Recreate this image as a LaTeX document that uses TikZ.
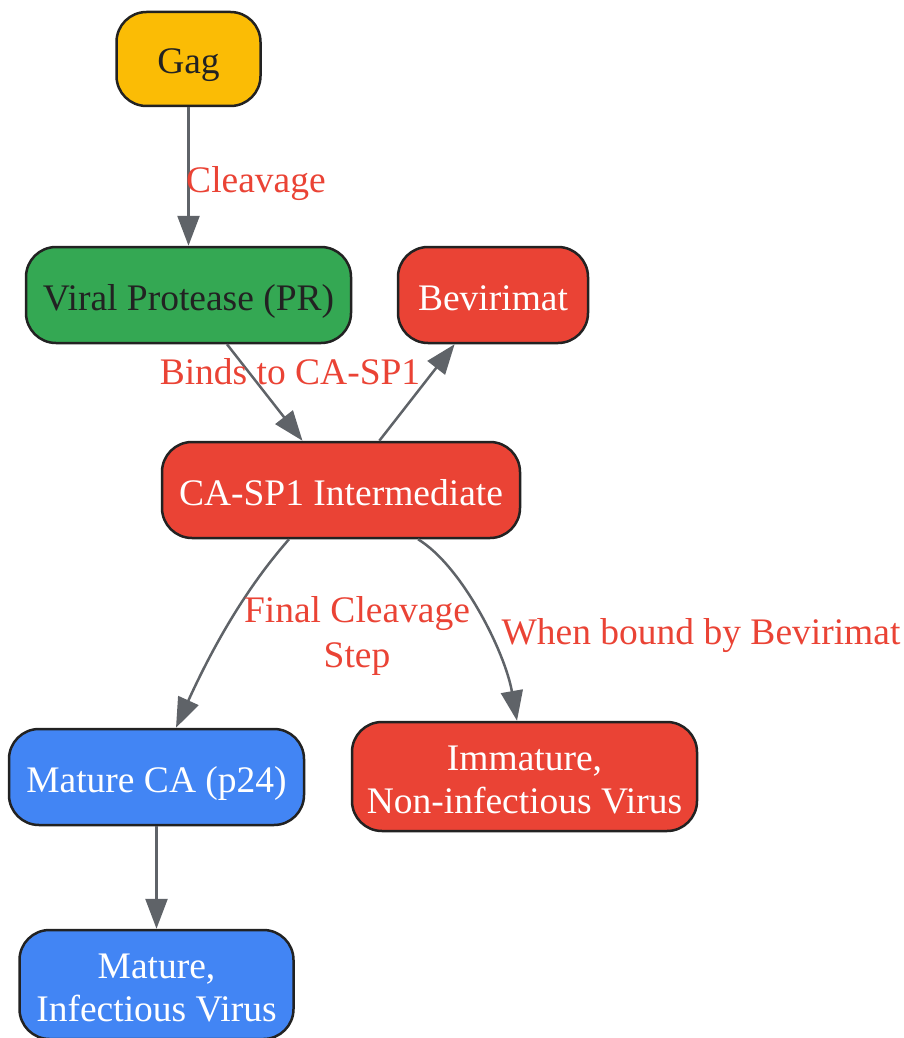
\documentclass[tikz,border=0pt]{standalone}
\usepackage{fontspec}
\setmainfont{Liberation Serif}
\usetikzlibrary{arrows.meta}
\definecolor{gagyellow}{HTML}{FBBC05}
\definecolor{prgreen}{HTML}{34A853}
\definecolor{capred}{HTML}{EA4335}
\definecolor{matblue}{HTML}{4285F4}
\definecolor{edgegrey}{HTML}{5F6368}
\definecolor{rimdark}{HTML}{222222}
\tikzset{
  stage/.style={draw=rimdark, line width=2.5pt, rounded corners=30pt, align=center,
    inner sep=0pt, minimum height=96pt, text height=35pt, text depth=5pt,
    font=\fontsize{37.5}{43}\selectfont},
  twoline/.style={text height=78pt, text depth=5pt},
  flow/.style={draw=edgegrey, line width=2.5pt, -{Triangle[length=30pt,width=22pt]}},
  steplabel/.style={text=capred, align=center, inner sep=0pt, text height=30pt, text depth=5pt,
    font=\fontsize{37.5}{45}\selectfont},
}
\begin{document}
\begin{tikzpicture}[x=1pt,y=-1pt]
\useasboundingbox (0,0) rectangle (903,1038);
\node [stage, fill=gagyellow, text=rimdark, minimum width=144pt, minimum height=94pt] (gag) at (188.5,59) {Gag};
\node [stage, fill=prgreen, text=rimdark, minimum width=325pt] (protease) at (188.5,295) {Viral Protease (PR)};
\node [stage, fill=capred, text=white, minimum width=190pt] (bevirimat) at (493,295) {Bevirimat};
\node [stage, fill=capred, text=white, minimum width=358pt] (intermediate) at (341,490) {CA-SP1 Intermediate};
\node [stage, fill=matblue, text=white, minimum width=295pt] (matureca) at (156.5,777) {Mature CA (p24)};
\node [stage, twoline, fill=capred, text=white, minimum width=345pt, minimum height=109pt] (immature) at (524.5,776.5) {Immature,\\Non-infectious Virus};
\node [stage, twoline, fill=matblue, text=white, minimum width=274pt, minimum height=109pt] (infectious) at (156.5,984.5) {Mature,\\Infectious Virus};
% edges
\draw [flow] (gag) -- (protease);
\draw [flow] (protease) -- (intermediate);
\draw [flow] (intermediate) -- (bevirimat);
\draw [flow] ([xshift=-52pt]intermediate.south) .. controls (262,570) and (225,620) .. ([xshift=19.5pt]matureca.north);
\draw [flow] ([xshift=77pt]intermediate.south) .. controls (462,566) and (505,652) .. ([xshift=-7.5pt]immature.north);
\draw [flow] (matureca) -- (infectious);
% edge labels
\node [steplabel] (lblcleave) at (256,180) {Cleavage};
\node [steplabel] (lblbinds) at (290,372) {Binds to CA-SP1};
\node [steplabel, text height=75pt] (lblfinal) at (357,632) {Final Cleavage\\Step};
\node [steplabel] (lblbound) at (701,632) {When bound by Bevirimat};
\end{tikzpicture}
\end{document}
